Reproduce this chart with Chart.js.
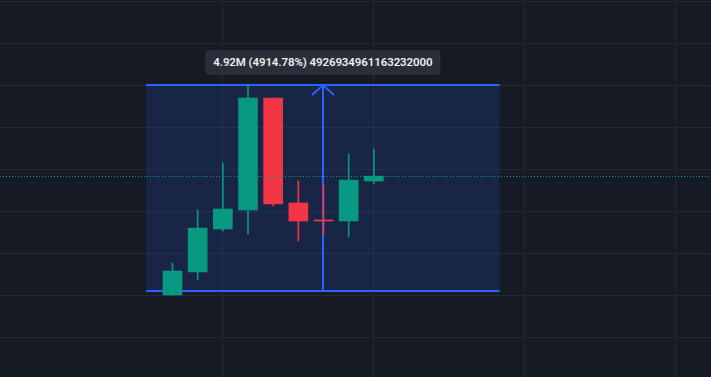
<!DOCTYPE html>
<html>
<head>
<meta charset="utf-8">
<script src="https://cdn.jsdelivr.net/npm/chart.js@4.4.1/dist/chart.umd.min.js"></script>
<style>
  html, body { margin: 0; padding: 0; background: #161a25; overflow: hidden; }
  #wrap { position: relative; width: 711px; height: 377px; }
  #measure-label {
    position: absolute;
    height: 25px;
    padding: 0 8px;
    background: #2a2e39;
    border-radius: 4px;
    color: #eceef2;
    font: 600 11.5px/25px Roboto, "Noto Sans", sans-serif;
    letter-spacing: -0.1px;
    white-space: nowrap;
    transform: translateX(-50%);
  }
</style>
</head>
<body>
<div id="wrap">
  <canvas id="chart" width="711" height="377"></canvas>
  <div id="measure-label">4.92M (4914.78%) 4926934961163232000</div>
</div>
<script>
// candles (bar index, ohlc)
const bars   = [0, 1, 2, 3, 4, 5, 6, 7, 8];
const opens  = [5000,   553000,  1579000, 2032000, 4705000, 2200000, 1794000, 1770000, 2724000];
const highs  = [768000, 2032000, 3154000, 5039000, 4705000, 2724000, 2629000, 3369000, 3488000];
const lows   = [5000,   362000,  1531000, 1460000, 2128000, 1293000, 1436000, 1388000, 2653000];
const closes = [577000, 1603000, 2056000, 4705000, 2176000, 1770000, 1794000, 2748000, 2840000];

// grid positions
const xGrid = [2, 8, 14, 20];
const yGrid = [-1000000, 0, 1000000, 2000000, 3000000, 4000000, 5000000, 6000000, 7000000];

// measure tool: from bar -1.05 to 13, price 100000 -> 5014780
const measureX = [-1.05, 13];
const measureY = [100000, 5014780];
const arrowBar = 6;

const up = '#089981';
const down = '#f23645';
const colors = bars.map((b, i) => closes[i] > opens[i] ? up : down);

const lastPrice = closes[closes.length - 1];

const measurePlugin = {
  id: 'measure',
  beforeDatasetsDraw(chart) {
    const { ctx, scales: { x, y } } = chart;
    const x0 = x.getPixelForValue(measureX[0]);
    const x1 = x.getPixelForValue(measureX[1]);
    const yb = y.getPixelForValue(measureY[0]);
    const yt = y.getPixelForValue(measureY[1]);
    const xa = Math.round(x.getPixelForValue(arrowBar));
    ctx.save();
    ctx.fillStyle = 'rgba(41, 98, 255, 0.15)';
    ctx.fillRect(x0, yt, x1 - x0, yb - yt);
    ctx.strokeStyle = '#2962ff';
    ctx.lineWidth = 2;
    ctx.beginPath();
    ctx.moveTo(x0, yt); ctx.lineTo(x1, yt);
    ctx.moveTo(x0, yb); ctx.lineTo(x1, yb);
    ctx.moveTo(xa, yb); ctx.lineTo(xa, yt);
    ctx.moveTo(xa - 11, yt + 10); ctx.lineTo(xa, yt); ctx.lineTo(xa + 11, yt + 10);
    ctx.stroke();
    ctx.restore();
  },
  afterDatasetsDraw(chart) {
    const { ctx, chartArea, scales: { x, y } } = chart;
    const py = Math.round(y.getPixelForValue(lastPrice)) + 0.5;
    ctx.save();
    ctx.strokeStyle = up;
    ctx.lineWidth = 1;
    ctx.setLineDash([1, 2]);
    ctx.beginPath();
    ctx.moveTo(chartArea.left, py);
    ctx.lineTo(chartArea.right, py);
    ctx.stroke();
    ctx.restore();

    const label = document.getElementById('measure-label');
    const cx = (x.getPixelForValue(measureX[0]) + x.getPixelForValue(measureX[1])) / 2;
    label.style.left = cx + 'px';
    label.style.top = (y.getPixelForValue(measureY[1]) - 35) + 'px';
  }
};

new Chart(document.getElementById('chart'), {
  type: 'bar',
  data: {
    datasets: [
      {
        label: 'body',
        data: bars.map((b, i) => ({ x: b, y: [opens[i], closes[i]] })),
        backgroundColor: colors,
        barThickness: 19,
        minBarLength: 1,
        grouped: false,
        borderWidth: 0,
        order: 1,
      },
      {
        label: 'wick',
        data: bars.map((b, i) => ({ x: b, y: [lows[i], highs[i]] })),
        backgroundColor: colors,
        barThickness: 1,
        grouped: false,
        borderWidth: 0,
        order: 2,
      },
    ],
  },
  options: {
    responsive: false,
    animation: false,
    layout: { padding: 0 },
    plugins: { legend: { display: false }, tooltip: { enabled: false } },
    scales: {
      x: {
        type: 'linear',
        offset: false,
        min: -6.854,
        max: 21.397,
        ticks: { display: false },
        grid: { color: '#242832', drawTicks: false, offset: false },
        border: { display: false },
        afterBuildTicks: (s) => { s.ticks = xGrid.map(v => ({ value: v })); },
      },
      y: {
        type: 'linear',
        min: -1952000,
        max: 7043000,
        ticks: { display: false },
        grid: { color: '#242832', drawTicks: false },
        border: { display: false },
        afterBuildTicks: (s) => { s.ticks = yGrid.map(v => ({ value: v })); },
      },
    },
  },
  plugins: [measurePlugin],
});
</script>
</body>
</html>
